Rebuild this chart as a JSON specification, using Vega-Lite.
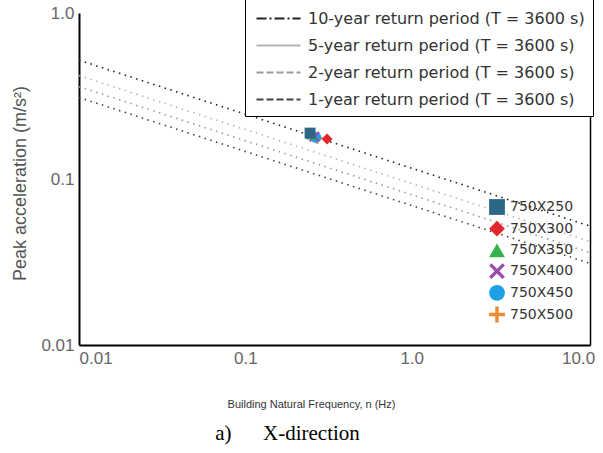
{
  "$schema": "https://vega.github.io/schema/vega-lite/v6.json",
  "autosize": "none",
  "padding": {"left": 79, "top": 13, "right": 13, "bottom": 108},
  "width": 511,
  "height": 332,
  "background": "white",
  "title": {
    "text": "a)\u00a0\u00a0\u00a0\u00a0\u00a0\u00a0X-direction",
    "orient": "bottom",
    "anchor": "middle",
    "dx": -47,
    "offset": 14,
    "font": "Liberation Serif",
    "fontSize": 21,
    "fontWeight": "normal",
    "color": "#000000"
  },
  "datasets": {
    "curves": [
      {"period": "10-year return period (T = 3600 s)", "freq": 0.01, "acc": 0.52},
      {"period": "10-year return period (T = 3600 s)", "freq": 11.8, "acc": 0.052},
      {"period": "5-year return period (T = 3600 s)", "freq": 0.01, "acc": 0.42},
      {"period": "5-year return period (T = 3600 s)", "freq": 11.8, "acc": 0.042},
      {"period": "2-year return period (T = 3600 s)", "freq": 0.01, "acc": 0.36},
      {"period": "2-year return period (T = 3600 s)", "freq": 11.8, "acc": 0.036},
      {"period": "1-year return period (T = 3600 s)", "freq": 0.01, "acc": 0.31},
      {"period": "1-year return period (T = 3600 s)", "freq": 11.8, "acc": 0.031}
    ],
    "buildings": [
      {"building": "750X500", "freq": 0.27, "acc": 0.176},
      {"building": "750X450", "freq": 0.265, "acc": 0.178},
      {"building": "750X400", "freq": 0.26, "acc": 0.18},
      {"building": "750X350", "freq": 0.25, "acc": 0.185},
      {"building": "750X300", "freq": 0.31, "acc": 0.174},
      {"building": "750X250", "freq": 0.245, "acc": 0.189}
    ]
  },
  "layer": [
    {
      "data": {"name": "curves"},
      "mark": {"type": "line", "strokeDash": [1.5, 4.5], "strokeWidth": 1.6, "clip": true},
      "encoding": {
        "x": {
          "field": "freq", "type": "quantitative",
          "scale": {"type": "log", "domain": [0.01, 11.8], "nice": false},
          "axis": {
            "values": [0.01, 0.1, 1, 10],
            "labelExpr": "datum.value >= 1 ? format(datum.value, '.1f') : (datum.value >= 0.1 ? '0.1' : '0.01')",
            "title": "Building Natural Frequency, n (Hz)",
            "titleX": 232,
            "titlePadding": 32,
            "titleFontSize": 11,
            "titleFontWeight": "normal",
            "titleColor": "#333333",
            "labelFontSize": 17,
            "labelColor": "#666666",
            "labelPadding": 5,
            "ticks": false,
            "grid": false,
            "domainColor": "#000000",
            "domainWidth": 2
          }
        },
        "y": {
          "field": "acc", "type": "quantitative",
          "scale": {"type": "log", "domain": [0.01, 1], "nice": false},
          "axis": {
            "values": [0.01, 0.1, 1],
            "labelExpr": "datum.value >= 1 ? '1.0' : (datum.value >= 0.1 ? '0.1' : '0.01')",
            "title": "Peak acceleration (m/s²)",
            "titleX": -50,
            "titleY": 170,
            "titleFontSize": 18,
            "titleFontWeight": "normal",
            "titleColor": "#555555",
            "labelFontSize": 17,
            "labelColor": "#666666",
            "labelPadding": 5,
            "ticks": false,
            "grid": false,
            "domainColor": "#000000",
            "domainWidth": 2
          }
        },
        "stroke": {
          "field": "period", "type": "nominal",
          "scale": {
            "domain": ["10-year return period (T = 3600 s)", "5-year return period (T = 3600 s)", "2-year return period (T = 3600 s)", "1-year return period (T = 3600 s)"],
            "range": ["#222222", "#b5b5b5", "#9a9a9a", "#444444"]
          },
          "legend": {
            "orient": "none",
            "legendX": 166,
            "legendY": -15,
            "title": null,
            "padding": 8,
            "rowPadding": 6,
            "strokeColor": "#000000",
            "fillColor": "#ffffff",
            "labelFont": "DejaVu Sans",
            "labelFontSize": 16,
            "labelColor": "#333333",
            "labelLimit": 400,
            "symbolType": "M-2,0H2",
            "symbolSize": 484,
            "symbolStrokeWidth": 2.2,
            "symbolOffset": 13,
            "labelOffset": 17,
            "encode": {
              "symbols": {
                "update": {
                  "strokeDash": {"signal": "indexof(datum.label, '10-year') >= 0 ? [10, 3, 2, 3] : (indexof(datum.label, '5-year') >= 0 ? [1, 0] : [7, 3])"}
                }
              }
            }
          }
        }
      }
    },
    {
      "data": {"name": "buildings"},
      "mark": {"type": "point", "filled": true, "size": 120, "opacity": 1},
      "encoding": {
        "x": {"field": "freq", "type": "quantitative"},
        "y": {
          "field": "acc", "type": "quantitative",
          "axis": {
            "orient": "right",
            "labels": false,
            "ticks": false,
            "grid": false,
            "title": null,
            "domainColor": "#000000",
            "domainWidth": 1.5
          }
        },
        "fill": {
          "field": "building", "type": "nominal",
          "scale": {
            "domain": ["750X250", "750X300", "750X350", "750X400", "750X450", "750X500"],
            "range": ["#2e6688", "#e3262c", "#33b34a", "#9a4db0", "#1fa0e6", "#ef8b30"]
          },
          "legend": null
        },
        "shape": {
          "field": "building", "type": "nominal",
          "scale": {
            "domain": ["750X250", "750X300", "750X350", "750X400", "750X450", "750X500"],
            "range": ["square", "diamond", "triangle-up", "M-1,-0.7L-0.7,-1L0,-0.3L0.7,-1L1,-0.7L0.3,0L1,0.7L0.7,1L0,0.3L-0.7,1L-1,0.7L-0.3,0Z", "circle", "M-0.22,-1H0.22V-0.22H1V0.22H0.22V1H-0.22V0.22H-1V-0.22H-0.22Z"]
          },
          "legend": {
            "orient": "none",
            "legendX": 410,
            "legendY": 186,
            "title": null,
            "padding": 0,
            "rowPadding": 5.7,
            "labelFont": "DejaVu Sans",
            "labelFontSize": 14,
            "labelColor": "#333333",
            "symbolSize": 250,
            "symbolStrokeWidth": 0,
            "labelOffset": 5,
            "encode": {
              "symbols": {
                "update": {
                  "fill": {"scale": "fill", "field": "value"},
                  "opacity": {"value": 1}
                }
              }
            }
          }
        }
      }
    }
  ],
  "resolve": {"axis": {"y": "independent"}},
  "config": {
    "view": {"stroke": null},
    "font": "Liberation Sans"
  }
}
